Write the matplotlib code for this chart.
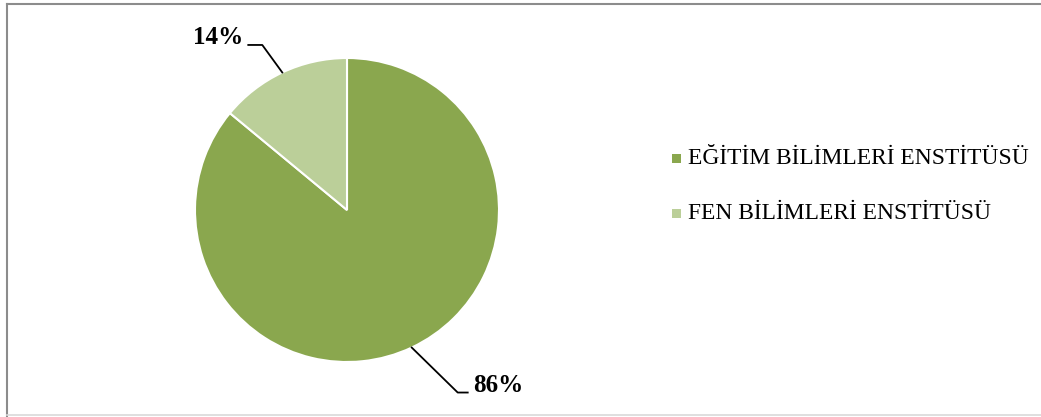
import matplotlib.pyplot as plt
from matplotlib.patches import Rectangle
from matplotlib.lines import Line2D
import numpy as np

# Data
categories = ["EĞİTİM BİLİMLERİ ENSTİTÜSÜ", "FEN BİLİMLERİ ENSTİTÜSÜ"]
shares = [86, 14]
colors = ["#8AA74E", "#BBCF99"]

plt.rcParams['font.family'] = ['Liberation Serif', 'DejaVu Serif']

W, H = 1041, 417
fig = plt.figure(figsize=(W / 100, H / 100), dpi=100)
ax = fig.add_axes([0, 0, 1, 1])

cx, cy, r = 347, H - 210, 152
wedges, _ = ax.pie(shares, colors=colors, startangle=90, counterclock=False,
                   center=(cx, cy), radius=r,
                   wedgeprops=dict(edgecolor="white", linewidth=1.5))

ax.set_xlim(0, W)
ax.set_ylim(0, H)
ax.set_aspect('equal')
ax.axis('off')

# Leader lines and percentage labels (one entry per wedge)
leader_geometry = [
    # (elbow dx, elbow dy, horizontal run, text alignment)
    (46, -45, 10, 'left'),
    (-20, 27.5, -14, 'right'),
]
for w, val, (edx, edy, run, side) in zip(wedges, shares, leader_geometry):
    mid = np.deg2rad((w.theta1 + w.theta2) / 2)
    px, py = cx + r * np.cos(mid), cy + r * np.sin(mid)
    ex, ey = px + edx, py + edy
    hx = ex + run
    ax.add_line(Line2D([px, ex, hx], [py, ey, ey], color="black", lw=1.3))
    tx = hx + (5 if run > 0 else -5)
    ax.text(tx, ey + 1, f"{val}%", ha=side, va='baseline',
            fontsize=18, fontweight='bold', color="black")

# Legend
leg_y = [H - 158, H - 213]
for cat, col, ly in zip(categories, colors, leg_y):
    ax.add_patch(Rectangle((672, ly - 5), 9, 9, facecolor=col, edgecolor='none'))
    ax.text(688, ly, cat, ha='left', va='center', fontsize=16.9, color="black")

# Chart frame
ax.add_line(Line2D([7, 7], [0, H - 3.5], color="#8c8c8c", lw=1.5))
ax.add_line(Line2D([7, W], [H - 3.5, H - 3.5], color="#8c8c8c", lw=1.5))
ax.add_line(Line2D([7, W], [2, 2], color="#d9d9d9", lw=1.2))

fig.savefig("out.png", dpi=100)
